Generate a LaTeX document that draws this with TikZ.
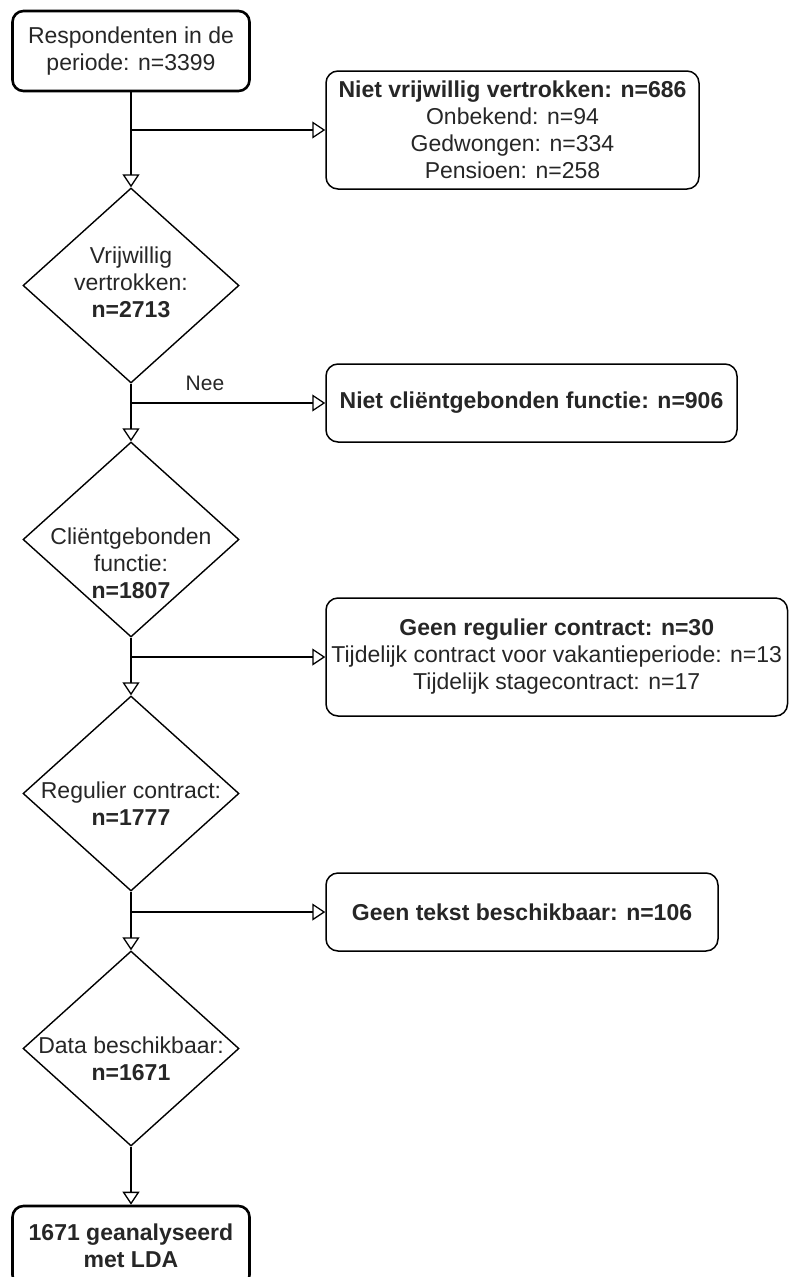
\documentclass[tikz,border=0pt]{standalone}
\usepackage{fontspec}
\setmainfont{Liberation Sans}
\usetikzlibrary{shapes.geometric,arrows.meta}
\definecolor{txt}{HTML}{262626}
\newcommand{\fsz}{\fontsize{23}{27}\selectfont}
\begin{document}
\begin{tikzpicture}[x=1pt,y=-1pt,
  box/.style={draw, rounded corners=12pt, line width=1.5pt, align=center, text=txt, font=\fsz, inner sep=0pt},
  startbox/.style={box, line width=2.6pt, rounded corners=11pt},
  dia/.style={draw, diamond, line width=1.4pt, minimum width=216pt, minimum height=195pt, inner sep=0pt},
  lbl/.style={align=center, text=txt, font=\fsz, inner sep=0pt},
  ln/.style={line width=1.3pt},
  arr/.style={line width=1.3pt, -{Triangle[open, length=13pt, width=17pt, line width=1.3pt]}}
]
\useasboundingbox (0,0) rectangle (789,1277);

% main column
\node[startbox, minimum width=237pt, minimum height=80pt] (top) at (131,51) {Respondenten in de\\periode: n=3399};
\node[dia] (d1) at (131,285.5) {};
\node[lbl] (d1t) at (131,282) {Vrijwillig\\vertrokken:\\\textbf{n=2713}};
\node[dia] (d2) at (131,539.5) {};
\node[lbl] (d2t) at (131,563) {Cliëntgebonden\\functie:\\\textbf{n=1807}};
\node[dia] (d3) at (131,793.5) {};
\node[lbl] (d3t) at (131,804) {Regulier contract:\\\textbf{n=1777}};
\node[dia] (d4) at (131,1048.5) {};
\node[lbl] (d4t) at (131,1059) {Data beschikbaar:\\\textbf{n=1671}};
\node[startbox, minimum width=237pt, minimum height=80pt] (final) at (131,1246) {\textbf{1671 geanalyseerd}\\\textbf{met LDA}};

% side boxes
\node[box, minimum width=373pt, minimum height=118pt] (box2) at (512.5,130) {\textbf{Niet vrijwillig vertrokken: n=686}\\Onbekend: n=94\\Gedwongen: n=334\\Pensioen: n=258};
\node[box, minimum width=411pt, minimum height=78pt] (box3) at (531.5,403) {\textbf{Niet cliëntgebonden functie: n=906}};
\node[box, minimum width=461.5pt, minimum height=118pt] (box4) at (556.75,657) {\textbf{Geen regulier contract: n=30}\\Tijdelijk contract voor vakantieperiode: n=13\\Tijdelijk stagecontract: n=17};
\node[box, minimum width=392pt, minimum height=78pt] (box5) at (522,912) {\textbf{Geen tekst beschikbaar: n=106}};

% junctions
\coordinate (j1) at (131,130);
\coordinate (j2) at (131,403);
\coordinate (j3) at (131,657);
\coordinate (j4) at (131,912);

\draw[ln] (top.south) -- (j1);
\draw[arr] (j1) -- (d1.north);
\draw[arr] (j1) -- (box2.west);

\draw[ln] (d1.south) -- (j2);
\draw[arr] (j2) -- (d2.north);
\draw[arr] (j2) -- (box3.west);
\node[lbl, font=\fontsize{21}{25}\selectfont] (nee) at (205,383) {Nee};

\draw[ln] (d2.south) -- (j3);
\draw[arr] (j3) -- (d3.north);
\draw[arr] (j3) -- (box4.west);

\draw[ln] (d3.south) -- (j4);
\draw[arr] (j4) -- (d4.north);
\draw[arr] (j4) -- (box5.west);

\draw[arr] (d4.south) -- (final.north);
\end{tikzpicture}
\end{document}
